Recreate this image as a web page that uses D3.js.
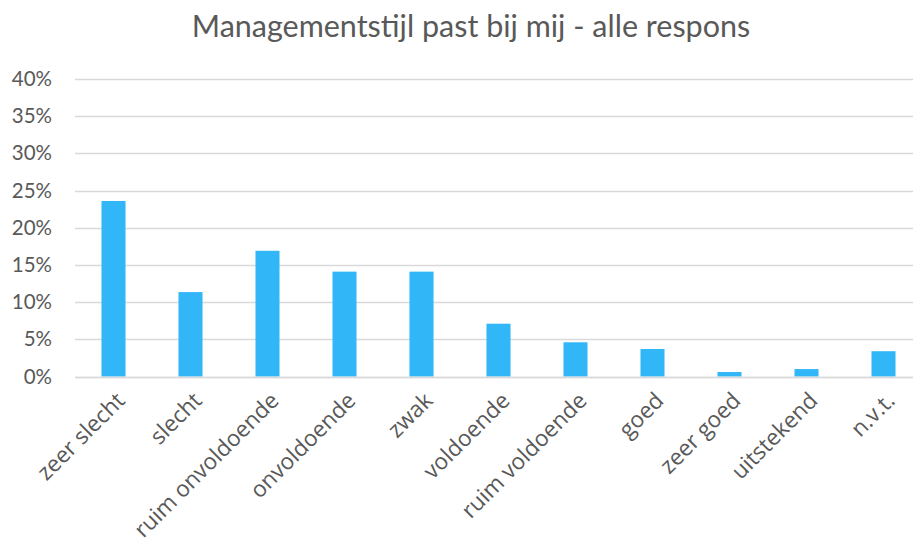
<!DOCTYPE html>
<html>
<head>
<meta charset="utf-8">
<script src="https://cdn.jsdelivr.net/npm/d3@7"></script>
<style>
  html, body { margin: 0; padding: 0; background: #fff; }
  svg { display: block; }
</style>
</head>
<body>
<svg id="chart" width="913" height="538"></svg>
<script>
// Answer categories and the share of responses per category
const categories = ["zeer slecht", "slecht", "ruim onvoldoende", "onvoldoende", "zwak",
  "voldoende", "ruim voldoende", "goed", "zeer goed", "uitstekend", "n.v.t."];
const shares = [0.236, 0.1135, 0.169, 0.141, 0.141, 0.071, 0.046, 0.037, 0.006, 0.010, 0.034];
const yTicks = [0, 0.05, 0.10, 0.15, 0.20, 0.25, 0.30, 0.35, 0.40];
const title = "Managementstijl past bij mij - alle respons";

const svg = d3.select("#chart");
const W = 913, H = 538;
const plotLeft = 75, plotRight = 922, plotTop = 79, plotBottom = 376.5;
const textColor = "#595959";
const font = "Lato, 'Source Sans Pro', sans-serif";
const labelFont = "'Open Sans', sans-serif";

const x = d3.scaleBand().domain(categories).range([plotLeft, plotRight]).paddingInner(0.688).paddingOuter(0.344);
const y = d3.scaleLinear().domain([0, 0.40]).range([plotBottom, plotTop]);

// title
svg.append("text")
  .attr("x", 471).attr("y", 37)
  .attr("text-anchor", "middle")
  .attr("fill", textColor)
  .style("font-family", font)
  .style("font-size", "30.5px")
  .text(title);

// horizontal gridlines
svg.append("g")
  .selectAll("line")
  .data(yTicks)
  .join("line")
  .attr("x1", plotLeft).attr("x2", W)
  .attr("y1", d => Math.round(y(d)) + 0.5).attr("y2", d => Math.round(y(d)) + 0.5)
  .attr("stroke", "#d9d9d9")
  .attr("stroke-width", 1.5);

// y-axis labels
const yAxis = d3.axisLeft(y).tickValues(yTicks).tickFormat(d3.format(".0%")).tickSize(0).tickPadding(0);
const gy = svg.append("g").attr("transform", `translate(${plotLeft - 23},0)`).call(yAxis);
gy.select(".domain").remove();
gy.selectAll("text")
  .attr("fill", textColor)
  .style("font-family", font)
  .style("font-size", "20.5px");

// bars
svg.append("g")
  .selectAll("rect")
  .data(categories)
  .join("rect")
  .attr("x", d => x(d))
  .attr("width", x.bandwidth())
  .attr("y", (d, i) => y(shares[i]))
  .attr("height", (d, i) => y(0) - y(shares[i]))
  .attr("fill", "#31b6f8");

// baseline drawn over bar bottoms
svg.append("line")
  .attr("x1", plotLeft).attr("x2", W)
  .attr("y1", Math.round(y(0)) + 0.5).attr("y2", Math.round(y(0)) + 0.5)
  .attr("stroke", "#d9d9d9").attr("stroke-width", 1.5);

// rotated category labels
const xAxis = d3.axisBottom(x).tickSize(0).tickPadding(0);
const gx = svg.append("g").attr("transform", `translate(0,${plotBottom})`).call(xAxis);
gx.select(".domain").remove();
gx.selectAll("text")
  .attr("fill", textColor)
  .style("font-family", labelFont)
  .style("font-size", "22.5px")
  .attr("text-anchor", "end")
  .attr("dy", "0.35em")
  .attr("transform", "translate(7,20) rotate(-45)");
</script>
</body>
</html>
